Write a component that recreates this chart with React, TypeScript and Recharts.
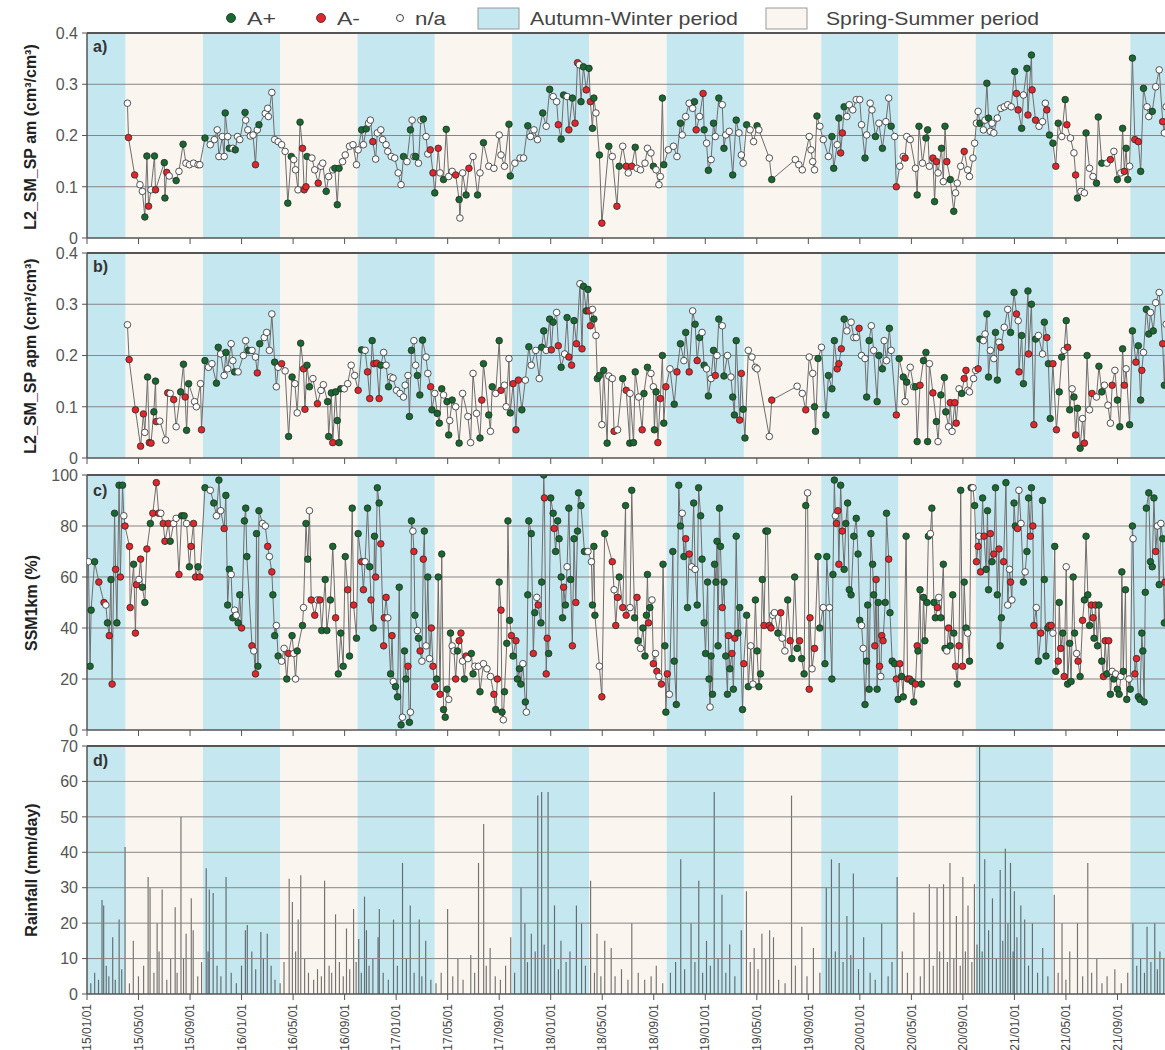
import React from 'react';
import { ComposedChart, Line, Bar, XAxis, YAxis, ReferenceArea, ReferenceLine } from 'recharts';

type Flag = 'g' | 'r' | 'w';
type Obs = [number, number, Flag];

// x values: months elapsed since 2015/01/01
const START_YEAR = 2015;
const MONTH_SPAN = 84;
const TICK_MONTHS = [0, 4, 8, 12, 16, 20, 24, 28, 32, 36, 40, 44, 48, 52, 56, 60, 64, 68, 72, 76, 80];
const SM_TICKS = [0, 0.1, 0.2, 0.3, 0.4];
const SSM_TICKS = [0, 20, 40, 60, 80, 100];
const RAIN_TICKS = [0, 10, 20, 30, 40, 50, 60, 70];
const FLAG_LABELS: Record<Flag, string> = { g: 'A+', r: 'A-', w: 'n/a' };

// a) L2_SM_SP am
const SM_AM: Obs[] = [
[3.14,0.263,'w'],[3.22,0.196,'r'],[3.70,0.123,'r'],[4.11,0.104,'w'],[4.30,0.091,'w'],[4.49,0.041,'g'],[4.65,0.160,'g'],[4.78,0.062,'r'],[4.97,0.094,'w'],[5.24,0.160,'g'],[5.32,0.094,'r'],[6.00,0.147,'g'],[6.05,0.078,'g'],[6.19,0.128,'r'],[6.38,0.121,'w'],[6.92,0.112,'g'],[7.14,0.130,'w'],[7.46,0.183,'g'],[7.68,0.146,'w'],[7.95,0.143,'w'],[8.27,0.146,'w'],[8.62,0.143,'w'],[8.76,0.143,'w'],
[9.16,0.195,'g'],[9.57,0.182,'w'],[9.89,0.192,'w'],[10.11,0.211,'w'],[10.24,0.159,'w'],[10.51,0.198,'w'],[10.65,0.159,'w'],[10.73,0.244,'g'],[10.92,0.198,'w'],[11.05,0.175,'g'],[11.32,0.175,'w'],[11.51,0.172,'g'],[11.68,0.198,'w'],[11.86,0.192,'w'],[12.27,0.245,'g'],[12.32,0.230,'w'],[12.49,0.211,'w'],[12.68,0.199,'w'],[12.89,0.201,'w'],[13.08,0.143,'r'],[13.22,0.211,'w'],[13.35,0.221,'g'],[13.84,0.243,'w'],[14.03,0.253,'w'],[14.08,0.237,'w'],[14.35,0.284,'w'],[14.57,0.192,'w'],[14.84,0.188,'w'],[15.11,0.182,'w'],[15.38,0.169,'w'],[15.59,0.068,'g'],[15.86,0.159,'g'],[16.05,0.153,'w'],[16.19,0.133,'w'],[16.38,0.094,'w'],[16.54,0.226,'g'],[16.73,0.175,'r'],[16.86,0.094,'r'],[17.00,0.100,'r'],[17.08,0.159,'g'],[17.46,0.156,'w'],[17.68,0.133,'w'],[17.95,0.107,'r'],[18.16,0.140,'w'],[18.30,0.146,'w'],[18.57,0.091,'g'],[18.76,0.120,'w'],[19.08,0.133,'w'],[19.24,0.136,'g'],[19.43,0.065,'g'],[19.57,0.136,'g'],[19.84,0.149,'w'],[20.05,0.162,'w'],[20.38,0.179,'w'],[20.65,0.182,'w'],[20.92,0.143,'w'],
[21.05,0.172,'w'],[21.32,0.211,'g'],[21.46,0.182,'w'],[21.68,0.213,'g'],[21.86,0.224,'w'],[22.00,0.230,'w'],[22.19,0.188,'r'],[22.41,0.154,'w'],[22.54,0.205,'w'],[22.81,0.211,'w'],[22.95,0.192,'w'],[23.22,0.182,'w'],[23.35,0.169,'w'],[23.62,0.159,'w'],[23.89,0.156,'w'],[24.16,0.127,'w'],[24.38,0.104,'w'],[24.57,0.159,'g'],[24.84,0.149,'w'],[25.11,0.211,'g'],[25.24,0.230,'w'],[25.38,0.159,'w'],[25.51,0.159,'g'],[25.73,0.146,'w'],[25.92,0.230,'w'],[26.11,0.232,'g'],[26.32,0.198,'w'],[26.46,0.164,'w'],[26.65,0.172,'r'],[26.86,0.127,'r'],[27.00,0.088,'g'],[27.27,0.175,'r'],[27.41,0.127,'w'],[27.68,0.114,'g'],[27.89,0.212,'g'],[28.08,0.120,'w'],[28.35,0.130,'w'],[28.62,0.123,'r'],[28.89,0.075,'g'],[28.95,0.039,'w'],[29.16,0.127,'w'],[29.43,0.084,'g'],[29.65,0.136,'r'],[29.97,0.159,'w'],[30.32,0.084,'g'],[30.51,0.127,'w'],[30.78,0.186,'g'],[31.19,0.140,'w'],[31.59,0.136,'w'],[32.00,0.201,'w'],[32.14,0.162,'w'],[32.41,0.140,'w'],[32.76,0.222,'g'],[32.86,0.121,'g'],
[33.22,0.146,'w'],[33.62,0.156,'w'],[33.89,0.156,'w'],[34.22,0.219,'g'],[34.43,0.198,'w'],[34.70,0.211,'w'],[34.97,0.192,'w'],[35.38,0.244,'g'],[35.65,0.218,'w'],[35.92,0.290,'g'],[36.19,0.276,'w'],[36.46,0.266,'w'],[36.59,0.221,'r'],[36.81,0.193,'g'],[37.00,0.279,'g'],[37.27,0.276,'w'],[37.41,0.211,'r'],[37.68,0.273,'g'],[37.89,0.224,'r'],[38.08,0.342,'r'],[38.22,0.338,'w'],[38.35,0.266,'g'],[38.54,0.334,'g'],[38.76,0.289,'r'],[38.97,0.331,'g'],[39.08,0.266,'r'],[39.24,0.214,'g'],[39.35,0.273,'g'],[39.51,0.244,'w'],[39.78,0.162,'g'],[39.97,0.029,'r'],[40.51,0.179,'g'],[40.78,0.159,'w'],[41.14,0.062,'r'],[41.32,0.140,'g'],[41.59,0.179,'w'],[41.86,0.140,'r'],
[42.02,0.127,'w'],[42.29,0.140,'r'],[42.56,0.177,'g'],[42.70,0.136,'w'],[42.97,0.133,'w'],[43.32,0.146,'w'],[43.51,0.175,'w'],[43.78,0.166,'w'],[43.97,0.140,'g'],[44.18,0.133,'w'],[44.40,0.104,'w'],[44.51,0.120,'w'],[44.67,0.273,'g'],[44.78,0.143,'g'],[45.13,0.172,'w'],[45.53,0.179,'w'],[45.80,0.159,'w'],[46.07,0.224,'g'],[46.21,0.201,'w'],[46.48,0.237,'w'],[46.75,0.263,'w'],[47.02,0.253,'w'],[47.16,0.266,'g'],[47.29,0.211,'r'],[47.56,0.237,'w'],[47.83,0.282,'r'],[47.91,0.211,'g'],[48.10,0.185,'w'],[48.24,0.132,'g'],[48.45,0.153,'w'],[48.64,0.224,'g'],[48.78,0.198,'w'],[49.05,0.273,'g'],[49.32,0.260,'w'],[49.45,0.175,'g'],[49.59,0.201,'w'],[49.86,0.208,'w'],[50.13,0.123,'g'],[50.40,0.230,'g'],[50.61,0.205,'w'],[50.80,0.162,'w'],[50.94,0.146,'w'],[51.21,0.221,'g'],[51.48,0.211,'w'],[51.75,0.188,'w'],[52.02,0.219,'g'],[52.16,0.211,'w'],[52.97,0.156,'w'],[53.16,0.114,'g'],
[54.99,0.153,'w'],[55.26,0.143,'w'],[55.53,0.133,'w'],[56.07,0.198,'w'],[56.21,0.172,'w'],[56.34,0.149,'w'],[56.48,0.133,'w'],[56.67,0.238,'g'],[56.89,0.218,'w'],[57.16,0.192,'w'],[57.56,0.159,'w'],[57.83,0.198,'g'],[57.97,0.136,'g'],[58.24,0.182,'w'],[58.37,0.234,'g'],[58.51,0.166,'r'],[58.64,0.205,'r'],[58.78,0.256,'g'],[58.99,0.237,'w'],[59.18,0.260,'w'],[59.45,0.250,'w'],[59.72,0.270,'w'],[59.99,0.270,'w'],[60.13,0.221,'w'],[60.40,0.156,'g'],[60.53,0.201,'w'],[60.80,0.263,'w'],[60.94,0.250,'w'],[61.21,0.198,'g'],[61.48,0.224,'w'],[61.75,0.175,'g'],[62.02,0.227,'w'],[62.24,0.273,'w'],[62.43,0.218,'g'],[62.70,0.198,'w'],[62.83,0.100,'r'],[63.10,0.140,'w'],[63.37,0.159,'w'],[63.51,0.156,'r'],[63.64,0.198,'w'],[63.91,0.192,'w'],[64.32,0.136,'w'],[64.45,0.084,'g'],[64.59,0.218,'g'],[64.86,0.146,'w'],[65.13,0.195,'g'],[65.26,0.211,'g'],[65.40,0.140,'w'],[65.67,0.156,'r'],[65.80,0.071,'g'],[65.94,0.149,'r'],[66.07,0.127,'w'],[66.34,0.175,'g'],[66.48,0.110,'w'],[66.61,0.218,'g'],[66.75,0.149,'r'],[67.02,0.114,'g'],[67.29,0.052,'g'],[67.43,0.088,'w'],[67.56,0.107,'w'],[67.83,0.140,'w'],[68.10,0.169,'r'],[68.37,0.133,'w'],[68.51,0.120,'w'],[68.78,0.156,'w'],[68.91,0.185,'w'],
[69.05,0.224,'w'],[69.18,0.247,'w'],[69.32,0.224,'g'],[69.59,0.211,'w'],[69.72,0.230,'w'],[69.86,0.302,'g'],[69.99,0.234,'g'],[70.13,0.208,'w'],[70.26,0.224,'w'],[70.40,0.205,'w'],[70.67,0.234,'w'],[70.94,0.253,'w'],[71.21,0.256,'w'],[71.48,0.260,'w'],[71.75,0.256,'w'],[72.02,0.325,'g'],[72.16,0.282,'r'],[72.29,0.250,'r'],[72.56,0.214,'g'],[72.70,0.279,'w'],[72.97,0.331,'g'],[73.05,0.240,'r'],[73.32,0.357,'g'],[73.37,0.289,'r'],[73.64,0.230,'r'],[73.91,0.218,'w'],[74.18,0.227,'w'],[74.40,0.263,'w'],[74.51,0.250,'r'],[74.72,0.201,'g'],[74.99,0.185,'g'],[75.21,0.140,'r'],[75.40,0.224,'g'],[75.67,0.198,'w'],[75.94,0.270,'g'],[76.07,0.221,'r'],[76.35,0.195,'w'],[76.62,0.166,'w'],[76.75,0.123,'r'],[76.89,0.078,'g'],[77.16,0.091,'w'],[77.43,0.088,'w'],[77.56,0.205,'g'],[77.83,0.136,'w'],[78.10,0.120,'w'],[78.37,0.107,'g'],[78.51,0.236,'g'],[78.78,0.146,'g'],[79.18,0.146,'w'],[79.45,0.153,'r'],[79.72,0.169,'w'],[79.99,0.114,'g'],[80.26,0.127,'w'],[80.40,0.214,'g'],[80.53,0.130,'r'],[80.67,0.175,'g'],[80.80,0.114,'g'],[80.94,0.140,'w'],[81.16,0.351,'g'],[81.35,0.192,'r'],[81.62,0.188,'r'],[81.80,0.130,'g'],[82.02,0.292,'g'],[82.29,0.256,'w'],[82.43,0.237,'w'],[82.70,0.247,'g'],[82.97,0.295,'w'],[83.24,0.328,'w'],[83.51,0.227,'r'],[83.64,0.205,'w'],[83.78,0.256,'w'],
];

// b) L2_SM_SP apm
const SM_APM: Obs[] = [
[3.14,0.260,'w'],[3.27,0.192,'r'],[3.76,0.094,'r'],[4.16,0.023,'r'],[4.38,0.086,'r'],[4.49,0.050,'w'],[4.70,0.158,'g'],[4.84,0.030,'r'],[4.97,0.029,'r'],[5.19,0.090,'g'],[5.32,0.150,'g'],[5.38,0.071,'r'],[5.65,0.072,'w'],[6.11,0.035,'w'],[6.27,0.127,'r'],[6.46,0.126,'w'],[6.73,0.114,'r'],[6.92,0.061,'w'],[7.27,0.129,'g'],[7.49,0.183,'g'],[7.62,0.119,'r'],[7.73,0.054,'g'],[7.89,0.145,'g'],[8.35,0.110,'w'],[8.49,0.100,'w'],[8.81,0.145,'w'],[8.89,0.055,'r'],
[9.16,0.190,'g'],[9.43,0.177,'w'],[9.70,0.184,'w'],[10.05,0.146,'g'],[10.19,0.216,'g'],[10.38,0.203,'w'],[10.65,0.161,'w'],[10.78,0.206,'g'],[10.92,0.174,'w'],[11.19,0.223,'w'],[11.32,0.190,'w'],[11.46,0.168,'g'],[11.73,0.168,'w'],[12.14,0.200,'w'],[12.32,0.229,'w'],[12.54,0.210,'g'],[12.81,0.210,'w'],[13.08,0.197,'w'],[13.22,0.166,'r'],[13.41,0.223,'g'],[13.76,0.235,'w'],[13.95,0.245,'w'],[14.16,0.210,'w'],[14.35,0.281,'w'],[14.57,0.187,'g'],[14.70,0.139,'w'],[14.84,0.177,'w'],[15.11,0.184,'r'],[15.38,0.170,'w'],[15.65,0.042,'g'],[15.92,0.158,'g'],[16.14,0.145,'w'],[16.32,0.088,'w'],[16.59,0.224,'g'],[16.81,0.174,'r'],[16.92,0.095,'r'],[17.08,0.181,'g'],[17.27,0.139,'g'],[17.54,0.155,'w'],[17.89,0.106,'r'],[18.16,0.132,'w'],[18.35,0.143,'w'],[18.68,0.110,'g'],[18.76,0.042,'g'],[18.97,0.127,'g'],[19.08,0.030,'r'],[19.30,0.129,'g'],[19.43,0.073,'g'],[19.57,0.030,'g'],[19.70,0.135,'g'],[19.97,0.135,'w'],[20.24,0.145,'w'],[20.51,0.181,'w'],[20.78,0.161,'w'],
[21.05,0.132,'r'],[21.32,0.211,'g'],[21.59,0.210,'w'],[21.78,0.168,'r'],[21.95,0.116,'r'],[22.14,0.229,'g'],[22.27,0.184,'r'],[22.49,0.185,'r'],[22.68,0.116,'r'],[22.81,0.181,'g'],[23.03,0.206,'w'],[23.22,0.181,'w'],[23.41,0.139,'g'],[23.57,0.158,'w'],[23.76,0.156,'w'],[24.03,0.132,'w'],[24.30,0.126,'w'],[24.57,0.119,'w'],[24.70,0.142,'w'],[24.92,0.161,'w'],[25.03,0.081,'g'],[25.19,0.210,'g'],[25.38,0.229,'w'],[25.51,0.181,'w'],[25.65,0.161,'g'],[25.84,0.123,'g'],[26.05,0.230,'g'],[26.32,0.197,'w'],[26.46,0.165,'w'],[26.68,0.139,'r'],[26.78,0.094,'g'],[27.00,0.126,'w'],[27.19,0.087,'g'],[27.35,0.068,'g'],[27.54,0.135,'g'],[27.68,0.123,'w'],[27.95,0.110,'g'],[28.08,0.045,'g'],[28.16,0.073,'w'],[28.35,0.113,'g'],[28.62,0.100,'w'],[28.89,0.029,'g'],[29.16,0.126,'w'],[29.57,0.081,'w'],[29.78,0.030,'w'],[29.97,0.165,'w'],[30.24,0.087,'w'],[30.51,0.039,'g'],[30.65,0.113,'r'],[30.78,0.184,'g'],[31.19,0.084,'g'],[31.32,0.052,'w'],[31.46,0.139,'g'],[31.73,0.126,'w'],[32.00,0.229,'g'],[32.14,0.132,'r'],[32.41,0.142,'w'],[32.54,0.100,'w'],[32.76,0.194,'w'],[32.86,0.088,'g'],
[33.08,0.145,'r'],[33.30,0.055,'r'],[33.49,0.152,'r'],[33.76,0.094,'g'],[34.03,0.152,'w'],[34.30,0.217,'g'],[34.49,0.181,'w'],[34.84,0.210,'w'],[35.11,0.155,'w'],[35.30,0.216,'g'],[35.46,0.248,'g'],[35.65,0.210,'w'],[35.92,0.271,'g'],[36.05,0.211,'r'],[36.19,0.265,'g'],[36.46,0.284,'w'],[36.59,0.219,'r'],[36.81,0.177,'g'],[37.08,0.203,'w'],[37.27,0.274,'g'],[37.41,0.197,'r'],[37.62,0.181,'r'],[37.81,0.268,'g'],[38.00,0.223,'r'],[38.27,0.340,'w'],[38.43,0.213,'r'],[38.54,0.335,'g'],[38.76,0.287,'g'],[38.89,0.329,'g'],[38.97,0.287,'r'],[39.08,0.258,'r'],[39.24,0.290,'w'],[39.35,0.271,'g'],[39.51,0.239,'w'],[39.62,0.155,'g'],[39.78,0.161,'g'],[39.97,0.065,'w'],[40.11,0.171,'g'],[40.38,0.029,'g'],[40.51,0.160,'w'],[40.78,0.155,'w'],[40.92,0.052,'r'],[41.19,0.055,'w'],[41.59,0.155,'g'],[41.86,0.132,'r'],[42.14,0.029,'g'],
[42.16,0.126,'w'],[42.43,0.030,'g'],[42.56,0.168,'g'],[42.83,0.119,'w'],[43.10,0.055,'r'],[43.24,0.126,'g'],[43.51,0.177,'g'],[43.78,0.165,'w'],[43.97,0.139,'w'],[44.05,0.055,'g'],[44.18,0.129,'g'],[44.32,0.030,'r'],[44.51,0.116,'r'],[44.67,0.200,'g'],[44.78,0.068,'g'],[44.94,0.139,'r'],[45.26,0.174,'w'],[45.59,0.105,'g'],[45.80,0.168,'r'],[46.07,0.223,'g'],[46.34,0.190,'w'],[46.48,0.245,'g'],[46.75,0.168,'r'],[47.02,0.287,'w'],[47.21,0.261,'g'],[47.37,0.190,'r'],[47.56,0.235,'g'],[47.75,0.245,'w'],[47.91,0.181,'g'],[48.10,0.174,'w'],[48.24,0.121,'g'],[48.45,0.155,'w'],[48.64,0.210,'g'],[48.78,0.161,'r'],[48.91,0.200,'w'],[49.05,0.271,'g'],[49.32,0.258,'w'],[49.45,0.160,'g'],[49.72,0.200,'w'],[49.99,0.158,'w'],[50.13,0.119,'g'],[50.26,0.084,'g'],[50.40,0.229,'g'],[50.67,0.074,'r'],[50.80,0.165,'r'],[50.94,0.095,'g'],[51.08,0.039,'g'],[51.34,0.210,'w'],[51.62,0.197,'w'],[51.89,0.177,'w'],[52.02,0.174,'w'],[52.97,0.042,'w'],[53.16,0.113,'r'],
[55.13,0.140,'w'],[55.53,0.126,'w'],[55.80,0.094,'r'],[56.07,0.197,'w'],[56.34,0.165,'w'],[56.48,0.100,'g'],[56.56,0.052,'g'],[56.75,0.194,'g'],[57.02,0.216,'w'],[57.37,0.084,'g'],[57.56,0.161,'g'],[57.83,0.135,'g'],[58.02,0.229,'g'],[58.24,0.174,'r'],[58.37,0.184,'r'],[58.56,0.213,'r'],[58.78,0.271,'g'],[58.99,0.248,'w'],[59.32,0.265,'w'],[59.53,0.235,'w'],[59.72,0.235,'w'],[59.94,0.253,'r'],[60.13,0.200,'w'],[60.40,0.194,'w'],[60.53,0.119,'g'],[60.72,0.229,'g'],[60.89,0.258,'w'],[61.07,0.210,'w'],[61.34,0.110,'g'],[61.48,0.200,'g'],[61.75,0.174,'g'],[61.89,0.229,'w'],[62.07,0.190,'w'],[62.29,0.253,'g'],[62.43,0.210,'w'],[62.83,0.084,'r'],[63.05,0.194,'g'],[63.37,0.158,'g'],[63.51,0.110,'w'],[63.64,0.148,'g'],[63.91,0.177,'w'],[64.18,0.139,'w'],[64.32,0.139,'g'],[64.45,0.032,'g'],[64.67,0.142,'r'],[64.94,0.190,'g'],[65.13,0.206,'g'],[65.26,0.032,'g'],[65.40,0.184,'w'],[65.67,0.127,'r'],[65.94,0.071,'g'],[66.07,0.032,'w'],[66.29,0.123,'g'],[66.56,0.157,'g'],[66.67,0.090,'g'],[66.89,0.061,'w'],[67.02,0.108,'r'],[67.16,0.052,'w'],[67.37,0.108,'r'],[67.48,0.068,'r'],[67.70,0.135,'w'],[67.91,0.126,'g'],[68.10,0.155,'r'],[68.24,0.171,'r'],[68.37,0.132,'w'],[68.51,0.129,'w'],[68.83,0.155,'w'],[68.99,0.171,'w'],
[69.18,0.174,'r'],[69.32,0.232,'g'],[69.59,0.229,'w'],[69.72,0.242,'w'],[69.86,0.281,'g'],[69.99,0.158,'g'],[70.13,0.210,'w'],[70.40,0.194,'w'],[70.53,0.245,'g'],[70.67,0.152,'g'],[70.80,0.226,'w'],[70.94,0.216,'r'],[71.21,0.255,'w'],[71.48,0.290,'w'],[71.70,0.245,'g'],[71.97,0.323,'g'],[72.16,0.281,'r'],[72.29,0.268,'w'],[72.35,0.168,'r'],[72.56,0.239,'g'],[72.70,0.145,'g'],[73.05,0.326,'g'],[73.10,0.203,'r'],[73.32,0.300,'g'],[73.51,0.065,'r'],[73.64,0.232,'g'],[73.86,0.239,'w'],[74.18,0.203,'w'],[74.32,0.265,'g'],[74.51,0.235,'r'],[74.64,0.184,'g'],[74.78,0.077,'g'],[74.99,0.184,'r'],[75.26,0.055,'r'],[75.48,0.129,'g'],[75.67,0.197,'g'],[75.86,0.210,'w'],[76.02,0.268,'g'],[76.13,0.216,'r'],[76.29,0.094,'g'],[76.48,0.135,'w'],[76.62,0.119,'g'],[76.75,0.045,'r'],[76.89,0.097,'g'],[77.10,0.019,'g'],[77.29,0.077,'w'],[77.43,0.029,'r'],[77.64,0.200,'g'],[77.83,0.094,'w'],[78.02,0.126,'r'],[78.37,0.119,'w'],[78.56,0.179,'g'],[78.78,0.129,'g'],[78.99,0.142,'w'],[79.26,0.103,'w'],[79.45,0.068,'w'],[79.59,0.142,'r'],[79.80,0.171,'w'],[79.99,0.113,'g'],[80.18,0.061,'g'],[80.40,0.213,'g'],[80.53,0.142,'r'],[80.67,0.174,'w'],[80.94,0.065,'g'],[81.16,0.248,'g'],[81.43,0.187,'r'],[81.62,0.219,'g'],[81.80,0.113,'g'],[81.89,0.171,'r'],[82.02,0.206,'w'],[82.24,0.290,'g'],[82.43,0.242,'g'],[82.56,0.284,'w'],[82.78,0.248,'g'],[82.97,0.303,'w'],[83.24,0.323,'w'],[83.51,0.223,'r'],[83.64,0.142,'g'],[83.78,0.261,'w'],
];

// c) SSM1km (%)
const SSM_1KM: Obs[] = [
[0.11,66,'w'],[0.24,25,'g'],[0.32,47,'g'],[0.59,66,'g'],[0.92,58,'r'],[1.32,50,'r'],[1.46,49,'w'],[1.59,42,'g'],[1.73,37,'r'],[1.86,59,'g'],[1.95,18,'r'],[2.14,85,'g'],[2.22,63,'r'],[2.32,42,'g'],[2.49,96,'g'],[2.59,60,'r'],[2.76,96,'g'],[2.86,84,'w'],[2.95,80,'r'],[3.30,72,'r'],[3.35,48,'r'],[3.62,65,'g'],[3.76,38,'r'],[3.84,57,'r'],[4.03,59,'w'],[4.16,67,'r'],[4.30,56,'g'],[4.49,50,'g'],[4.65,71,'r'],[4.92,81,'g'],[5.11,85,'r'],[5.38,97,'r'],[5.57,85,'r'],[5.73,85,'w'],[5.92,81,'r'],[6.05,74,'r'],[6.32,81,'r'],[6.46,74,'g'],[6.73,81,'w'],[6.92,83,'w'],[7.14,61,'r'],[7.35,84,'g'],[7.54,84,'g'],[7.73,81,'w'],[7.95,64,'g'],[8.08,72,'r'],[8.27,81,'r'],[8.43,60,'r'],[8.62,64,'g'],[8.76,60,'r'],
[9.16,95,'g'],[9.57,94,'w'],[9.84,89,'g'],[10.05,84,'w'],[10.24,98,'g'],[10.38,86,'w'],[10.65,79,'r'],[10.78,92,'g'],[10.92,49,'g'],[11.05,63,'g'],[11.19,61,'w'],[11.32,44,'g'],[11.46,47,'w'],[11.59,45,'w'],[11.73,42,'g'],[11.86,53,'g'],[12.00,40,'r'],[12.22,82,'g'],[12.32,87,'g'],[12.41,68,'g'],[12.81,33,'r'],[12.95,31,'w'],[13.08,22,'r'],[13.16,77,'g'],[13.27,25,'g'],[13.35,86,'g'],[13.62,81,'w'],[13.84,80,'w'],[14.03,72,'r'],[14.16,68,'w'],[14.35,62,'r'],[14.43,53,'g'],[14.57,37,'g'],[14.70,41,'w'],[14.84,29,'g'],[15.11,27,'w'],[15.30,32,'w'],[15.51,20,'g'],[15.65,30,'r'],[15.92,37,'g'],[16.05,30,'w'],[16.19,20,'w'],[16.32,31,'g'],[16.73,41,'g'],[16.81,48,'w'],[17.00,81,'g'],[17.14,67,'g'],[17.27,86,'w'],[17.41,51,'r'],[17.68,45,'r'],[17.89,51,'w'],[18.08,51,'r'],[18.22,39,'g'],[18.49,59,'g'],[18.62,39,'g'],[18.89,51,'g'],[19.08,72,'g'],[19.30,44,'r'],[19.51,22,'g'],[19.70,38,'g'],[19.89,25,'g'],[20.05,68,'g'],[20.24,55,'r'],[20.38,29,'g'],[20.59,87,'g'],[20.70,49,'r'],[20.92,36,'g'],
[21.05,77,'g'],[21.32,66,'r'],[21.46,55,'r'],[21.59,66,'w'],[21.78,87,'g'],[21.95,64,'g'],[22.05,51,'r'],[22.22,40,'g'],[22.32,76,'g'],[22.41,60,'r'],[22.54,95,'g'],[22.68,89,'g'],[22.81,73,'r'],[23.03,33,'r'],[23.08,44,'r'],[23.22,52,'r'],[23.35,44,'w'],[23.57,22,'g'],[23.68,37,'r'],[23.78,19,'w'],[23.95,17,'g'],[24.11,13,'g'],[24.24,56,'g'],[24.38,2,'g'],[24.49,5,'w'],[24.65,31,'g'],[24.76,20,'g'],[24.92,25,'r'],[25.03,3,'g'],[25.11,7,'w'],[25.19,82,'g'],[25.30,78,'w'],[25.38,70,'r'],[25.46,45,'g'],[25.65,39,'w'],[25.73,36,'g'],[25.86,31,'r'],[26.00,27,'w'],[26.11,67,'r'],[26.19,78,'g'],[26.32,33,'w'],[26.46,60,'g'],[26.59,28,'w'],[26.73,40,'r'],[26.86,25,'r'],[27.00,17,'r'],[27.14,20,'g'],[27.27,60,'g'],[27.41,14,'r'],[27.54,69,'g'],[27.68,8,'g'],[27.81,5,'g'],[27.95,16,'g'],[28.08,12,'w'],[28.22,38,'g'],[28.35,33,'w'],[28.49,31,'w'],[28.62,20,'r'],[28.76,31,'g'],[28.89,35,'r'],[29.03,38,'r'],[29.16,27,'w'],[29.30,20,'g'],[29.43,29,'r'],[29.57,28,'w'],[29.84,30,'g'],[29.97,22,'g'],[30.11,25,'w'],[30.38,25,'w'],[30.51,15,'g'],[30.78,26,'w'],[31.05,24,'w'],[31.32,21,'w'],[31.59,14,'r'],[31.73,8,'g'],[31.86,20,'r'],[32.00,58,'g'],[32.14,47,'r'],[32.22,7,'g'],[32.32,4,'w'],[32.41,15,'g'],[32.59,34,'g'],[32.68,82,'g'],[32.81,43,'g'],[32.95,37,'r'],
[33.08,29,'g'],[33.30,35,'r'],[33.41,20,'g'],[33.57,24,'g'],[33.68,18,'g'],[33.84,26,'w'],[34.03,11,'g'],[34.11,7,'w'],[34.22,53,'g'],[34.30,82,'g'],[34.49,77,'g'],[34.65,30,'r'],[34.76,46,'g'],[34.92,52,'w'],[35.03,49,'r'],[35.24,42,'g'],[35.30,58,'g'],[35.46,100,'g'],[35.51,91,'r'],[35.65,22,'r'],[35.73,36,'r'],[35.84,30,'g'],[36.00,91,'g'],[36.19,85,'g'],[36.27,79,'r'],[36.38,70,'g'],[36.54,82,'g'],[36.65,75,'g'],[36.81,60,'g'],[36.92,44,'g'],[37.00,56,'r'],[37.14,49,'g'],[37.27,64,'w'],[37.41,87,'g'],[37.54,59,'g'],[37.68,33,'r'],[37.81,75,'g'],[37.95,50,'r'],[38.08,78,'g'],[38.16,93,'g'],[38.35,88,'g'],[38.62,70,'g'],[38.89,70,'w'],[39.16,66,'w'],[39.24,49,'g'],[39.35,72,'g'],[39.43,45,'g'],[39.78,25,'w'],[39.97,13,'r'],[40.19,77,'g'],[40.78,66,'r'],[40.92,55,'w'],[41.05,41,'r'],[41.19,52,'r'],[41.32,60,'g'],[41.59,48,'r'],[41.81,88,'g'],[41.86,45,'r'],
[42.16,48,'w'],[42.29,94,'g'],[42.51,44,'g'],[42.70,52,'r'],[42.78,35,'g'],[42.97,32,'w'],[43.16,40,'g'],[43.32,29,'g'],[43.43,45,'g'],[43.51,61,'g'],[43.59,42,'r'],[43.70,48,'g'],[43.86,51,'w'],[43.97,26,'r'],[44.13,30,'w'],[44.24,23,'r'],[44.40,21,'w'],[44.59,18,'r'],[44.72,65,'g'],[44.86,33,'g'],[44.94,7,'g'],[45.05,22,'r'],[45.21,14,'w'],[45.48,70,'g'],[45.59,27,'g'],[45.75,10,'g'],[45.94,96,'g'],[46.07,80,'g'],[46.21,85,'w'],[46.34,68,'g'],[46.48,75,'r'],[46.62,48,'g'],[46.75,69,'r'],[46.94,64,'w'],[47.10,89,'g'],[47.21,63,'w'],[47.37,49,'g'],[47.48,95,'g'],[47.64,84,'g'],[47.75,67,'g'],[47.91,42,'g'],[48.02,30,'g'],[48.18,58,'g'],[48.29,20,'g'],[48.37,9,'w'],[48.45,29,'g'],[48.56,14,'g'],[48.72,65,'g'],[48.83,58,'g'],[48.91,74,'g'],[48.99,33,'g'],[49.10,87,'g'],[49.18,72,'g'],[49.32,48,'r'],[49.45,58,'g'],[49.59,29,'g'],[49.72,14,'g'],[49.80,37,'r'],[49.91,24,'g'],[50.07,30,'r'],[50.18,16,'g'],[50.29,36,'r'],[50.40,76,'g'],[50.54,38,'g'],[50.67,48,'g'],[50.89,8,'g'],[50.99,26,'r'],
[51.21,45,'g'],[51.34,17,'g'],[51.53,33,'w'],[51.70,18,'w'],[51.89,51,'g'],[52.02,31,'g'],[52.16,17,'g'],[52.29,22,'g'],[52.43,59,'g'],[52.56,41,'r'],[52.70,78,'g'],[52.83,78,'g'],[52.97,41,'r'],[53.10,40,'r'],[53.24,45,'w'],[53.37,46,'w'],[53.64,38,'g'],[53.86,46,'r'],[53.97,36,'w'],[54.18,31,'w'],[54.40,51,'g'],[54.59,35,'r'],[54.72,28,'g'],[54.94,60,'g'],[55.13,32,'g'],[55.32,35,'r'],[55.48,28,'g'],[55.67,22,'g'],[55.80,88,'g'],[55.94,93,'w'],[56.07,16,'r'],[56.13,44,'r'],[56.29,24,'w'],[56.48,32,'r'],[56.75,68,'g'],[56.89,40,'g'],[57.16,48,'w'],[57.29,26,'g'],[57.43,68,'g'],[57.64,48,'w'],[57.83,20,'g'],[57.91,61,'g'],[58.02,98,'g'],[58.10,84,'w'],[58.18,81,'r'],[58.29,86,'r'],[58.37,65,'r'],[58.51,96,'g'],[58.64,78,'r'],[58.78,63,'g'],[58.91,81,'g'],[59.05,89,'g'],[59.18,55,'g'],[59.32,53,'g'],[59.53,76,'g'],[59.72,83,'g'],[59.86,69,'g'],[59.99,43,'g'],[60.13,41,'w'],[60.26,32,'w'],[60.40,10,'g'],[60.53,27,'g'],[60.61,49,'g'],[60.72,16,'g'],[60.86,77,'g'],[60.99,65,'g'],[61.07,53,'g'],[61.16,33,'r'],[61.26,59,'r'],[61.34,16,'g'],[61.43,50,'g'],[61.53,25,'r'],[61.62,21,'w'],[61.70,37,'r'],[61.80,35,'r'],[61.97,50,'g'],[62.07,85,'g'],[62.24,67,'r'],[62.34,46,'g'],[62.51,27,'g'],[62.70,26,'g'],[62.83,20,'r'],[62.97,12,'g'],
[63.10,26,'r'],[63.24,21,'g'],[63.37,13,'g'],[63.59,76,'g'],[63.70,20,'r'],[63.86,20,'r'],[64.05,19,'g'],[64.18,11,'g'],[64.32,18,'r'],[64.45,33,'r'],[64.51,31,'g'],[64.67,55,'g'],[64.78,18,'g'],[64.94,52,'g'],[65.05,35,'g'],[65.21,50,'g'],[65.32,76,'g'],[65.48,77,'w'],[65.59,87,'g'],[65.75,50,'g'],[65.86,44,'g'],[66.02,48,'r'],[66.13,52,'w'],[66.29,44,'g'],[66.48,65,'g'],[66.61,32,'g'],[66.75,31,'w'],[66.89,40,'r'],[67.02,33,'g'],[67.21,53,'g'],[67.29,38,'g'],[67.43,25,'r'],[67.56,18,'g'],[67.70,33,'r'],[67.83,94,'g'],[67.97,25,'r'],[68.10,58,'g'],[68.24,40,'g'],[68.37,38,'w'],[68.51,27,'g'],[68.64,95,'g'],[68.78,95,'w'],[68.91,88,'g'],[69.05,66,'r'],[69.18,72,'r'],[69.26,76,'w'],[69.37,62,'r'],[69.53,91,'g'],[69.64,76,'r'],[69.80,63,'g'],[69.91,86,'g'],[69.99,55,'g'],[70.13,77,'r'],[70.26,66,'g'],[70.40,69,'r'],[70.53,95,'g'],[70.67,53,'g'],[70.80,71,'r'],[70.89,33,'g'],[70.99,44,'g'],[71.16,66,'r'],[71.34,97,'g'],[71.48,49,'w'],[71.62,63,'w'],[71.70,58,'r'],[71.80,51,'w'],[71.97,89,'g'],[72.07,80,'g'],[72.24,79,'r'],[72.35,94,'w'],[72.51,81,'w'],[72.70,58,'g'],[72.83,62,'w'],[72.97,70,'g'],[73.10,91,'g'],[73.24,76,'r'],[73.32,95,'g'],[73.43,80,'r'],[73.51,41,'r'],[73.70,48,'w'],[73.86,27,'g'],[74.05,38,'r'],[74.18,90,'g'],[74.32,59,'g'],[74.45,29,'g'],[74.59,40,'g'],[74.72,41,'r'],[74.86,41,'r'],[74.99,38,'w'],
[75.13,72,'g'],[75.21,23,'g'],[75.40,27,'r'],[75.48,50,'g'],[75.59,32,'r'],[75.75,38,'g'],[75.86,21,'r'],[76.02,64,'w'],[76.13,18,'g'],[76.29,34,'g'],[76.40,19,'g'],[76.56,60,'g'],[76.67,38,'g'],[76.83,30,'w'],[76.94,27,'r'],[77.10,21,'g'],[77.29,43,'r'],[77.43,51,'g'],[77.56,76,'g'],[77.70,53,'g'],[77.83,41,'g'],[77.97,49,'r'],[78.10,44,'r'],[78.18,36,'g'],[78.29,49,'r'],[78.45,33,'g'],[78.56,49,'g'],[78.78,27,'g'],[78.91,21,'r'],[79.05,35,'r'],[79.18,22,'g'],[79.32,35,'r'],[79.45,14,'g'],[79.59,23,'w'],[79.72,20,'g'],[79.86,22,'w'],[79.99,16,'g'],[80.13,14,'g'],[80.26,21,'w'],[80.34,62,'g'],[80.45,23,'g'],[80.62,55,'g'],[80.72,12,'g'],[80.89,20,'w'],[80.99,16,'g'],[81.16,80,'g'],[81.21,75,'w'],[81.35,22,'r'],[81.48,28,'r'],[81.62,13,'g'],[81.75,12,'g'],[81.89,38,'g'],[81.97,31,'g'],[82.07,11,'g'],[82.16,54,'g'],[82.24,87,'g'],[82.43,93,'g'],[82.56,66,'g'],[82.70,64,'g'],[82.83,91,'g'],[82.97,70,'r'],[83.10,80,'w'],[83.24,57,'g'],[83.37,81,'w'],[83.51,75,'g'],[83.64,42,'g'],[83.70,58,'r'],
];

// d) Rainfall (mm/day): [month, mm]
const RAINFALL: [number, number][] = [
[0.3,3],[0.6,6],[0.9,4],[1.17,26.5],[1.3,25],[1.5,8],[1.7,5],[2.0,16],[2.2,4],[2.5,21],[2.7,7],[2.96,41.5],[3.3,3],[3.6,15],[4.0,5],[4.4,8],[4.75,33],[4.9,30],[5.2,6],[5.45,20],[5.6,12],[5.84,29.5],[6.2,4],[6.5,10],[6.85,24.5],[7.0,6],[7.3,50],[7.5,10],[7.7,17],[8.1,27],[8.25,18],[8.6,5],[8.9,9],[9.26,35.5],[9.4,12],[9.5,29.5],[9.8,28.5],[10.1,8],[10.4,5],[10.8,33],[11.2,6],[11.6,3],[12.0,8],[12.3,18],[12.45,19.5],[12.8,12],[13.1,7],[13.5,17.5],[13.7,10],[14.0,17],[14.3,8],[14.6,4],[15.0,3],[15.3,9],[15.7,32.5],[15.95,26],[16.2,12],[16.4,21],[16.6,33.5],[16.9,10],[17.2,6],[17.6,4],[17.9,7],[18.2,5],[18.45,32],[18.8,8],[19.0,6],[19.3,22.5],[19.6,9],[19.9,5],[20.15,18.5],[20.4,7],[20.7,24],[20.9,9],[21.1,15.5],[21.3,6],[21.55,27.5],[21.7,18],[21.9,8],[22.2,10],[22.6,16],[22.7,24],[23.0,6],[23.4,4],[23.8,21],[24.1,8],[24.5,37],[24.8,10],[25.1,25],[25.4,6],[25.8,21],[26.0,5],[26.3,15],[26.7,4],[27.1,3],[27.5,6],[28.0,24],[28.4,5],[28.8,10],[29.2,4],[29.8,11],[30.1,6],[30.4,37],[30.8,48],[31.0,8],[31.3,13],[31.7,5],[32.1,4],[32.5,8],[32.9,16],[33.2,6],[33.7,30],[34.0,20],[34.2,9],[34.5,17],[34.8,12],[35.0,56],[35.3,57],[35.5,14],[35.8,57],[36.0,10],[36.3,25],[36.6,7],[36.8,15],[37.2,9],[37.5,12],[38.0,25],[38.4,20],[38.7,8],[39.1,32],[39.4,6],[39.6,17],[39.9,5],[40.2,15],[40.7,13],[41.0,5],[41.5,7],[42.0,4],[42.3,20],[42.8,6],[43.3,4],[43.8,5],[44.2,8],[44.7,3],[45.3,6],[45.7,9],[46.1,38],[46.4,7],[46.9,20],[47.2,9],[47.5,32],[47.8,6],[48.1,15],[48.4,8],[48.7,57],[49.0,10],[49.3,28],[49.6,6],[49.9,14],[50.3,5],[50.8,18],[51.2,29],[51.5,9],[51.8,13],[52.1,7],[52.4,17],[52.7,10],[53.0,18],[53.3,16],[53.7,4],[54.2,3],[54.7,56],[55.0,8],[55.5,19],[55.9,5],[56.4,13],[56.9,6],[57.4,30],[57.6,10],[57.8,38],[58.1,12],[58.4,37],[58.7,9],[59.0,22],[59.3,11],[59.5,34],[59.9,7],[60.3,16],[60.8,6],[61.2,4],[61.7,20],[62.2,5],[62.5,9],[62.9,33],[63.3,12],[63.7,6],[64.2,23],[64.7,5],[65.0,10],[65.4,31],[65.7,8],[66.0,30],[66.2,12],[66.5,31],[66.8,9],[67.0,37],[67.3,10],[67.5,22],[67.8,8],[68.0,33],[68.2,12],[68.4,25],[68.7,9],[68.9,31],[69.1,14],[69.3,70],[69.5,12],[69.7,38],[70.0,18],[70.3,27],[70.6,10],[70.9,35],[71.1,15],[71.3,41],[71.5,20],[71.7,37],[71.9,12],[72.0,29],[72.2,16],[72.5,25],[72.8,21],[73.1,8],[73.4,20],[73.8,6],[74.2,13],[74.6,5],[75.1,28],[75.4,6],[75.7,20],[76.0,4],[76.3,12],[76.9,20],[77.3,5],[77.7,37],[78.0,6],[78.4,10],[78.8,3],[79.2,5],[79.8,7],[80.3,3],[80.8,6],[81.2,20],[81.5,8],[81.8,10],[82.1,6],[82.3,19],[82.6,9],[82.9,20],[83.1,7],[83.3,12],[83.6,10],[83.9,6],
];

// ---------- styling / layout ----------
const FONT = "'Liberation Sans', Arial, Helvetica, sans-serif";
const PAGE_W = 1165;
const PAGE_H = 1050;
const CHART_W = 1169;
const AXIS_W = 87;
const FLAG_COLORS: Record<Flag, string> = { g: '#17692f', r: '#e3262b', w: '#ffffff' };
const AW_COLOR = '#c5e7f0';
const SS_COLOR = '#faf5ee';
const GRID = '#858585';
const FRAME = '#555555';

type Season = { x1: number; x2: number; kind: 'aw' | 'ss' };
const SEASONS: Season[] = [];
for (let k = 0; k <= 7; k++) {
  const a1 = Math.max(0, 12 * k - 3);
  const a2 = Math.min(MONTH_SPAN, 12 * k + 3);
  if (a2 > a1) SEASONS.push({ x1: a1, x2: a2, kind: 'aw' });
  const s1 = 12 * k + 3;
  const s2 = Math.min(MONTH_SPAN, 12 * k + 9);
  if (s2 > s1) SEASONS.push({ x1: s1, x2: s2, kind: 'ss' });
}

const tickLabel = (m: number) => {
  const y = START_YEAR + Math.floor(m / 12);
  const mo = (m % 12) + 1;
  return `${String(y).slice(2)}/${String(mo).padStart(2, '0')}/01`;
};

const toRows = (obs: Obs[]) =>
  obs.map(([m, v, f]) => ({ m, v, f, flag: FLAG_LABELS[f] })).sort((a, b) => a.m - b.m);

const renderDot = (props: any) => {
  const { cx, cy, payload, index } = props;
  if (cx == null || cy == null) return <g key={`d${index}`} />;
  return (
    <circle key={`d${index}`} cx={cx} cy={cy} r={3.3} fill={FLAG_COLORS[payload.f as Flag]} stroke="#2a2a2a" strokeWidth={0.8} />
  );
};

const makeYTick = (fmt: (v: number) => string) => (p: any) => (
  <text x={p.x} y={p.y} dy="0.36em" textAnchor="end" fontSize={16} fill="#555" fontFamily={FONT}>
    {fmt(p.payload.value)}
  </text>
);

const DateTick = (p: any) => (
  <text
    x={p.x}
    y={p.y + 2}
    dy="0.35em"
    transform={`rotate(-90 ${p.x} ${p.y + 2})`}
    textAnchor="end"
    fontSize={12}
    fill="#444"
    fontFamily={FONT}
  >
    {tickLabel(p.payload.value)}
  </text>
);

const EmptyTick = () => <g />;

type PanelProps = {
  top: number;
  bottom: number;
  yMax: number;
  yTicks: number[];
  fmt: (v: number) => string;
  data: any[];
  xAxisHeight: number;
  labels?: boolean;
  children: React.ReactNode;
};

function Panel({ top, bottom, yMax, yTicks, fmt, data, xAxisHeight, labels, children }: PanelProps) {
  const pad = 14;
  return (
    <div style={{ position: 'absolute', left: 0, top: top - pad }}>
      <ComposedChart
        width={CHART_W}
        height={bottom - top + pad + xAxisHeight}
        data={data}
        margin={{ top: pad, right: 0, bottom: 0, left: 0 }}
      >
        <XAxis
          dataKey="m"
          type="number"
          domain={[0, MONTH_SPAN]}
          ticks={TICK_MONTHS}
          interval={0}
          allowDataOverflow
          height={xAxisHeight}
          tickSize={6}
          tickMargin={2}
          tickLine={{ stroke: FRAME }}
          axisLine={{ stroke: FRAME, strokeWidth: 1.5 }}
          tick={labels ? DateTick : EmptyTick}
        />
        <YAxis
          type="number"
          domain={[0, yMax]}
          ticks={yTicks}
          interval={0}
          width={AXIS_W}
          allowDataOverflow
          tickSize={5}
          tickMargin={4}
          tickLine={{ stroke: FRAME }}
          axisLine={{ stroke: FRAME, strokeWidth: 1.5 }}
          tick={makeYTick(fmt)}
        />
        {SEASONS.map((s, i) => (
          <ReferenceArea
            key={`s${i}`}
            x1={s.x1}
            x2={s.x2}
            fill={s.kind === 'aw' ? AW_COLOR : SS_COLOR}
            fillOpacity={1}
            stroke="none"
            ifOverflow="hidden"
          />
        ))}
        {yTicks.slice(1, -1).map((t) => (
          <ReferenceLine key={`g${t}`} y={t} stroke={GRID} strokeWidth={1} />
        ))}
        <ReferenceLine y={yMax} stroke={FRAME} strokeWidth={2} />
        {children}
      </ComposedChart>
    </div>
  );
}

const fmtSM = (v: number) => (v === 0 ? '0' : v.toFixed(1));
const fmtInt = (v: number) => String(v);

export default function App() {
  const am = toRows(SM_AM);
  const apm = toRows(SM_APM);
  const ssm = toRows(SSM_1KM);
  const rain = RAINFALL.map(([m, mm]) => ({ m, mm }));

  const title = (x: number, y: number, content: React.ReactNode) => (
    <text
      x={x}
      y={y}
      transform={`rotate(-90 ${x} ${y})`}
      textAnchor="middle"
      dominantBaseline="central"
      fontSize={16}
      fontWeight="bold"
      fill="#222"
      fontFamily={FONT}
    >
      {content}
    </text>
  );
  const panelTag = (y: number, t: string) => (
    <text x={93} y={y} dominantBaseline="central" fontSize={16} fontWeight="bold" fill="#333" fontFamily={FONT}>
      {t}
    </text>
  );

  return (
    <div
      style={{
        position: 'absolute',
        left: 0,
        top: 0,
        width: PAGE_W,
        height: PAGE_H,
        overflow: 'hidden',
        background: '#ffffff',
        fontFamily: FONT,
      }}
    >
      <Panel top={33} bottom={238} yMax={0.4} yTicks={SM_TICKS} fmt={fmtSM} data={am} xAxisHeight={10}>
        <Line type="linear" dataKey="v" stroke="#6e6e6e" strokeWidth={1} dot={renderDot} activeDot={false} isAnimationActive={false} />
      </Panel>
      <Panel top={253} bottom={458} yMax={0.4} yTicks={SM_TICKS} fmt={fmtSM} data={apm} xAxisHeight={10}>
        <Line type="linear" dataKey="v" stroke="#6e6e6e" strokeWidth={1} dot={renderDot} activeDot={false} isAnimationActive={false} />
      </Panel>
      <Panel top={475} bottom={730} yMax={100} yTicks={SSM_TICKS} fmt={fmtInt} data={ssm} xAxisHeight={10}>
        <Line type="linear" dataKey="v" stroke="#6e6e6e" strokeWidth={1} dot={renderDot} activeDot={false} isAnimationActive={false} />
      </Panel>
      <Panel top={746} bottom={994} yMax={70} yTicks={RAIN_TICKS} fmt={fmtInt} data={rain} xAxisHeight={56} labels>
        <Bar dataKey="mm" fill="#1c1c1c" fillOpacity={0.6} barSize={1.5} isAnimationActive={false} />
      </Panel>

      <svg
        width={PAGE_W}
        height={PAGE_H}
        style={{ position: 'absolute', left: 0, top: 0, pointerEvents: 'none' }}
      >
        <g fontFamily={FONT} fontSize={19} fill="#444">
          <circle cx={231} cy={18} r={4.5} fill={FLAG_COLORS.g} stroke="#2a2a2a" strokeWidth={0.8} />
          <text x={247} y={18} dominantBaseline="central" textLength={29} lengthAdjust="spacingAndGlyphs">A+</text>
          <circle cx={321} cy={18} r={4.5} fill={FLAG_COLORS.r} stroke="#2a2a2a" strokeWidth={0.8} />
          <text x={337} y={18} dominantBaseline="central" textLength={23} lengthAdjust="spacingAndGlyphs">A-</text>
          <circle cx={400} cy={18} r={3.5} fill={FLAG_COLORS.w} stroke="#2a2a2a" strokeWidth={0.9} />
          <text x={415} y={18} dominantBaseline="central" textLength={31} lengthAdjust="spacingAndGlyphs">n/a</text>
          <rect x={478} y={8} width={41} height={21} fill={AW_COLOR} stroke="#999" strokeWidth={1} />
          <text x={530} y={18} dominantBaseline="central" textLength={208} lengthAdjust="spacingAndGlyphs">Autumn-Winter period</text>
          <rect x={766} y={8} width={41} height={21} fill={SS_COLOR} stroke="#999" strokeWidth={1} />
          <text x={826} y={18} dominantBaseline="central" textLength={213} lengthAdjust="spacingAndGlyphs">Spring-Summer period</text>
        </g>
        {title(30, 137, 'L2_SM_SP am (cm³/cm³)')}
        {title(30, 356, 'L2_SM_SP apm (cm³/cm³)')}
        {title(31, 603, 'SSM1km (%)')}
        {title(31, 870, 'Rainfall (mm/day)')}
        {panelTag(46, 'a)')}
        {panelTag(266, 'b)')}
        {panelTag(490, 'c)')}
        {panelTag(760, 'd)')}
      </svg>
    </div>
  );
}
